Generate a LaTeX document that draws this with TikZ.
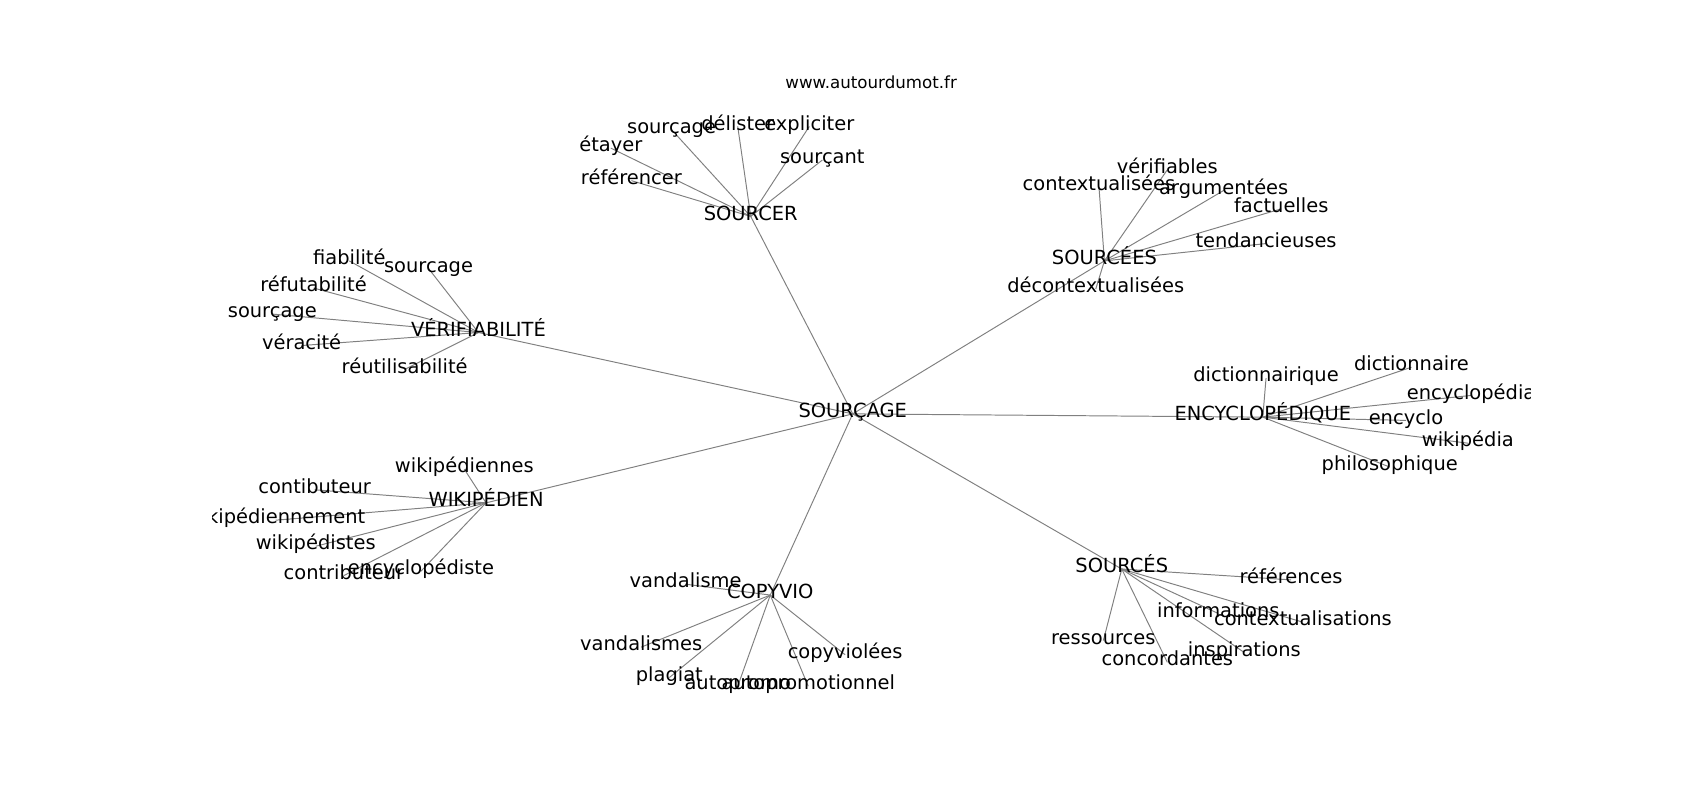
\documentclass[tikz,border=0pt]{standalone}
\usepackage{fontspec}
\setmainfont{DejaVu Sans}
\usetikzlibrary{backgrounds}

\begin{document}
\begin{tikzpicture}[x=0.7811pt,y=-0.7811pt,
                    word/.style={inner sep=0pt,text height=0.76em,text depth=0.24em,
                                 font=\fontsize{14}{16}\selectfont},
                    link/.style={draw=gray,line width=0.7pt}]
  \useasboundingbox (0,0) rectangle (1567,737.4);
  \node[inner sep=0pt,font=\fontsize{12}{14}\selectfont] (site) at (803,76) {www.autourdumot.fr};
  \begin{scope}[shift={(0,2.5)}]
    \clip (195.9,86) rectangle (1410.3,653.8);
    % centre
    \node[word] (sourcage) at (786,379) {SOURÇAGE};
    % sourcer
    \node[word] (sourcer) at (692,197) {SOURCER};
    \node[word] (referencer) at (582,164) {référencer};
    \node[word] (etayer) at (563,134) {étayer};
    \node[word] (sourcagea) at (619,117) {sourçage};
    \node[word] (delister) at (680,114) {délister};
    \node[word] (expliciter) at (746,114) {expliciter};
    \node[word] (sourcant) at (758,145) {sourçant};
    % verifiabilite
    \node[word] (verif) at (441,304) {VÉRIFIABILITÉ};
    \node[word] (fiabilite) at (322,238) {fiabilité};
    \node[word] (sourcageb) at (395,245) {sourcage};
    \node[word] (refutabilite) at (289,263) {réfutabilité};
    \node[word] (sourcagec) at (251,287) {sourçage};
    \node[word] (veracite) at (278,316) {véracité};
    \node[word] (reutilisabilite) at (373,338) {réutilisabilité};
    % sourcees
    \node[word] (sourcees) at (1018,238) {SOURCÉES};
    \node[word] (contextualisees) at (1013,170) {contextualisées};
    \node[word] (verifiables) at (1076,154) {vérifiables};
    \node[word] (argumentees) at (1128,173) {argumentées};
    \node[word] (factuelles) at (1181,190) {factuelles};
    \node[word] (tendancieuses) at (1167,222) {tendancieuses};
    \node[word] (decontextualisees) at (1010,264) {décontextualisées};
    % encyclopedique
    \node[word] (encyclopedique) at (1164,382) {ENCYCLOPÉDIQUE};
    \node[word] (dictionnairique) at (1167,346) {dictionnairique};
    \node[word] (dictionnaire) at (1301,336) {dictionnaire};
    \node[word] (encyclopedia) at (1356,362) {encyclopédia};
    \node[word] (encyclo) at (1296,385) {encyclo};
    \node[word] (wikipedia) at (1353,406) {wikipédia};
    \node[word] (philosophique) at (1281,428) {philosophique};
    % wikipedien
    \node[word] (wikipedien) at (448,461) {WIKIPÉDIEN};
    \node[word] (wikipediennes) at (428,430) {wikipédiennes};
    \node[word] (contibuteur) at (290,449) {contibuteur};
    \node[word] (wikipediennement) at (254,477) {wikipédiennement};
    \node[word] (wikipedistes) at (291,501) {wikipédistes};
    \node[word] (contributeur) at (317,528) {contributeur};
    \node[word] (encyclopediste) at (388,524) {encyclopédiste};
    % copyvio
    \node[word] (copyvio) at (710,546) {COPYVIO};
    \node[word] (vandalisme) at (632,536) {vandalisme};
    \node[word] (vandalismes) at (591,594) {vandalismes};
    \node[word] (plagiat) at (617,622) {plagiat};
    \node[word] (autopromo) at (680,630) {autopromo};
    \node[word] (autopromotionnel) at (745,630) {autopromotionnel};
    \node[word] (copyviolees) at (779,601) {copyviolées};
    % sources
    \node[word] (sources) at (1034,522) {SOURCÉS};
    \node[word] (references) at (1190,532) {références};
    \node[word] (informations) at (1123,563) {informations};
    \node[word] (contextualisations) at (1201,571) {contextualisations};
    \node[word] (ressources) at (1017,588) {ressources};
    \node[word] (concordantes) at (1076,608) {concordantes};
    \node[word] (inspirations) at (1147,599) {inspirations};
  \end{scope}
  \begin{scope}[on background layer]
    \clip (195.9,88.5) rectangle (1410.3,656.3);
    \foreach \hub in {sourcer,verif,sourcees,encyclopedique,wikipedien,copyvio,sources}
      \draw[link] (sourcage.center) -- (\hub.center);
    \foreach \leaf in {referencer,etayer,sourcagea,delister,expliciter,sourcant}
      \draw[link] (sourcer.center) -- (\leaf.center);
    \foreach \leaf in {fiabilite,sourcageb,refutabilite,sourcagec,veracite,reutilisabilite}
      \draw[link] (verif.center) -- (\leaf.center);
    \foreach \leaf in {contextualisees,verifiables,argumentees,factuelles,tendancieuses,decontextualisees}
      \draw[link] (sourcees.center) -- (\leaf.center);
    \foreach \leaf in {dictionnairique,dictionnaire,encyclopedia,encyclo,wikipedia,philosophique}
      \draw[link] (encyclopedique.center) -- (\leaf.center);
    \foreach \leaf in {wikipediennes,contibuteur,wikipediennement,wikipedistes,contributeur,encyclopediste}
      \draw[link] (wikipedien.center) -- (\leaf.center);
    \foreach \leaf in {vandalisme,vandalismes,plagiat,autopromo,autopromotionnel,copyviolees}
      \draw[link] (copyvio.center) -- (\leaf.center);
    \foreach \leaf in {references,informations,contextualisations,ressources,concordantes,inspirations}
      \draw[link] (sources.center) -- (\leaf.center);
  \end{scope}
\end{tikzpicture}
\end{document}
